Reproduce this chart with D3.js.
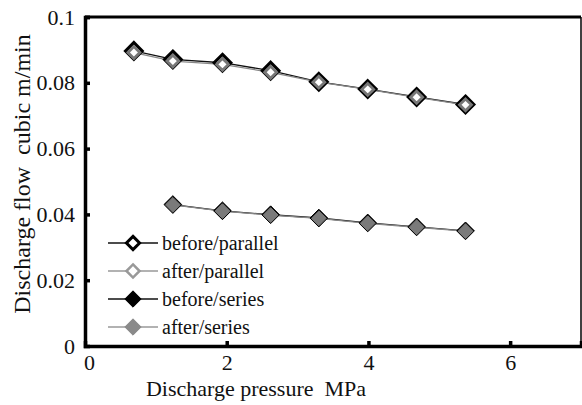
<!DOCTYPE html>
<html><head><meta charset="utf-8">
<script src="https://cdn.jsdelivr.net/npm/d3@7"></script>
<style>body{margin:0;background:#fff}svg{display:block}svg text{font-family:"Liberation Serif","Times New Roman",serif !important;fill:#111}</style>
</head><body><svg id="c" width="582" height="405"></svg>
<script>
const pressureParallel = [0.69, 1.24, 1.94, 2.62, 3.30, 3.99, 4.68, 5.37];
const beforeParallel = [0.0897, 0.0871, 0.0861, 0.0837, 0.0803, 0.0781, 0.0757, 0.0734];
const afterParallel  = [0.0892, 0.0866, 0.0856, 0.0832, 0.0802, 0.0780, 0.0756, 0.0733];
const pressureSeries = [1.24, 1.94, 2.62, 3.30, 3.99, 4.68, 5.37];
const beforeSeries = [0.0430, 0.0411, 0.0399, 0.0389, 0.0374, 0.0362, 0.0350];
const afterSeries  = [0.0429, 0.0410, 0.0398, 0.0388, 0.0373, 0.0361, 0.0349];
const xTicks = [0, 2, 4, 6];
const yTicks = [0, 0.02, 0.04, 0.06, 0.08, 0.1];
const legendLabels = ["before/parallel", "after/parallel", "before/series", "after/series"];

const svg = d3.select("#c");
const L = 85, R = 581, T = 17, B = 346;
const x = d3.scaleLinear().domain([0, 7]).range([L, R]);
const y = d3.scaleLinear().domain([0, 0.1]).range([B, T]);
const SERIF = '"Liberation Serif","Times New Roman",serif';

// frame
svg.append("line").attr("x1", R).attr("x2", R).attr("y1", T).attr("y2", B).attr("stroke", "#000").attr("stroke-width", 1.5);
svg.append("line").attr("x1", L).attr("x2", R).attr("y1", T).attr("y2", T).attr("stroke", "#000").attr("stroke-width", 3);

// axes
const yAxis = d3.axisLeft(y).tickValues(yTicks).tickSize(-5).tickPadding(10).tickFormat(d => d === 0 ? "0" : String(+d.toFixed(2)));
const gy = svg.append("g").attr("transform", `translate(${L},0)`).call(yAxis);
gy.attr("font-family", SERIF);
gy.select(".domain").attr("stroke", "#000").attr("stroke-width", 3.5);
gy.selectAll(".tick line").attr("stroke", "#000").attr("stroke-width", 3.5);
gy.selectAll("text").attr("font-size", 22).style("font-family", SERIF).attr("fill", "#111");

const xAxis = d3.axisBottom(x).tickValues(xTicks).tickSize(-5).tickPadding(8).tickFormat(d3.format("d"));
const gx = svg.append("g").attr("transform", `translate(0,${B})`).call(xAxis);
gx.attr("font-family", SERIF);
gx.select(".domain").attr("stroke", "#000").attr("stroke-width", 3.5);
gx.selectAll(".tick line").attr("stroke", "#000").attr("stroke-width", 3.5);
gx.selectAll("text").attr("font-size", 22).style("font-family", SERIF).attr("fill", "#111");
gy.selectAll(".tick").filter(d => d === 0).select("line").remove();
gx.selectAll(".tick").filter(d => d === 0).select("line").remove();
gx.selectAll(".tick").filter(d => d === 0).select("text").attr("dx", 4);

// titles
svg.append("text").attr("x", 256).attr("y", 396).attr("text-anchor", "middle").attr("font-size", 22)
  .style("font-family", SERIF).style("white-space", "pre").text("Discharge pressure  MPa");
svg.append("text").attr("transform", "translate(30,174) rotate(-90)").attr("text-anchor", "middle").attr("font-size", 24)
  .style("font-family", SERIF).style("white-space", "pre").text("Discharge flow  cubic m/min");

const diamond = d3.symbol().type(d3.symbolDiamond2);
const line = d3.line();

function drawSeries(xs, ys, col, lw) {
  svg.append("path").attr("d", line(xs.map((v, i) => [x(v), y(ys[i])])))
    .attr("fill", "none").attr("stroke", col).attr("stroke-width", lw);
}
drawSeries(pressureParallel, beforeParallel, "#111", 1.3);
drawSeries(pressureParallel, afterParallel, "#888", 1.3);
drawSeries(pressureSeries, beforeSeries, "#111", 1.3);
drawSeries(pressureSeries, afterSeries, "#888", 1.3);

function marks(xs, ys, size, fill, stroke, sw) {
  svg.append("g").selectAll("path").data(xs).join("path")
    .attr("d", diamond.size(size)())
    .attr("transform", (d, i) => `translate(${x(d)},${y(ys[i])})`)
    .attr("fill", fill).attr("stroke", stroke).attr("stroke-width", sw);
}
marks(pressureParallel, beforeParallel, 175, "#fff", "#000", 3.2);
marks(pressureParallel, afterParallel, 90, "#fff", "#777", 2.8);
marks(pressureSeries, beforeSeries, 200, "#000", "#000", 1);
marks(pressureSeries, afterSeries, 140, "#7a7a7a", "#7a7a7a", 1);

// legend
const legY = [243, 271, 299, 327];
const legStyle = [
  {lc: "#111", size: 110, fill: "#fff", stroke: "#000", sw: 3},
  {lc: "#999", size: 110, fill: "#fff", stroke: "#999", sw: 2.5},
  {lc: "#111", size: 170, fill: "#000", stroke: "#000", sw: 1},
  {lc: "#999", size: 170, fill: "#8a8a8a", stroke: "#8a8a8a", sw: 1}
];
legendLabels.forEach((lab, i) => {
  const s = legStyle[i];
  const g = svg.append("g");
  g.append("line").attr("x1", 108).attr("x2", 158).attr("y1", legY[i]).attr("y2", legY[i]).attr("stroke", s.lc).attr("stroke-width", 1.3);
  g.append("path").attr("d", diamond.size(s.size)()).attr("transform", `translate(133,${legY[i]})`)
    .attr("fill", s.fill).attr("stroke", s.stroke).attr("stroke-width", s.sw);
  g.append("text").attr("x", 162).attr("y", legY[i]).attr("dy", "0.33em").attr("font-size", 20).style("font-family", SERIF).text(lab);
});
</script></body></html>
